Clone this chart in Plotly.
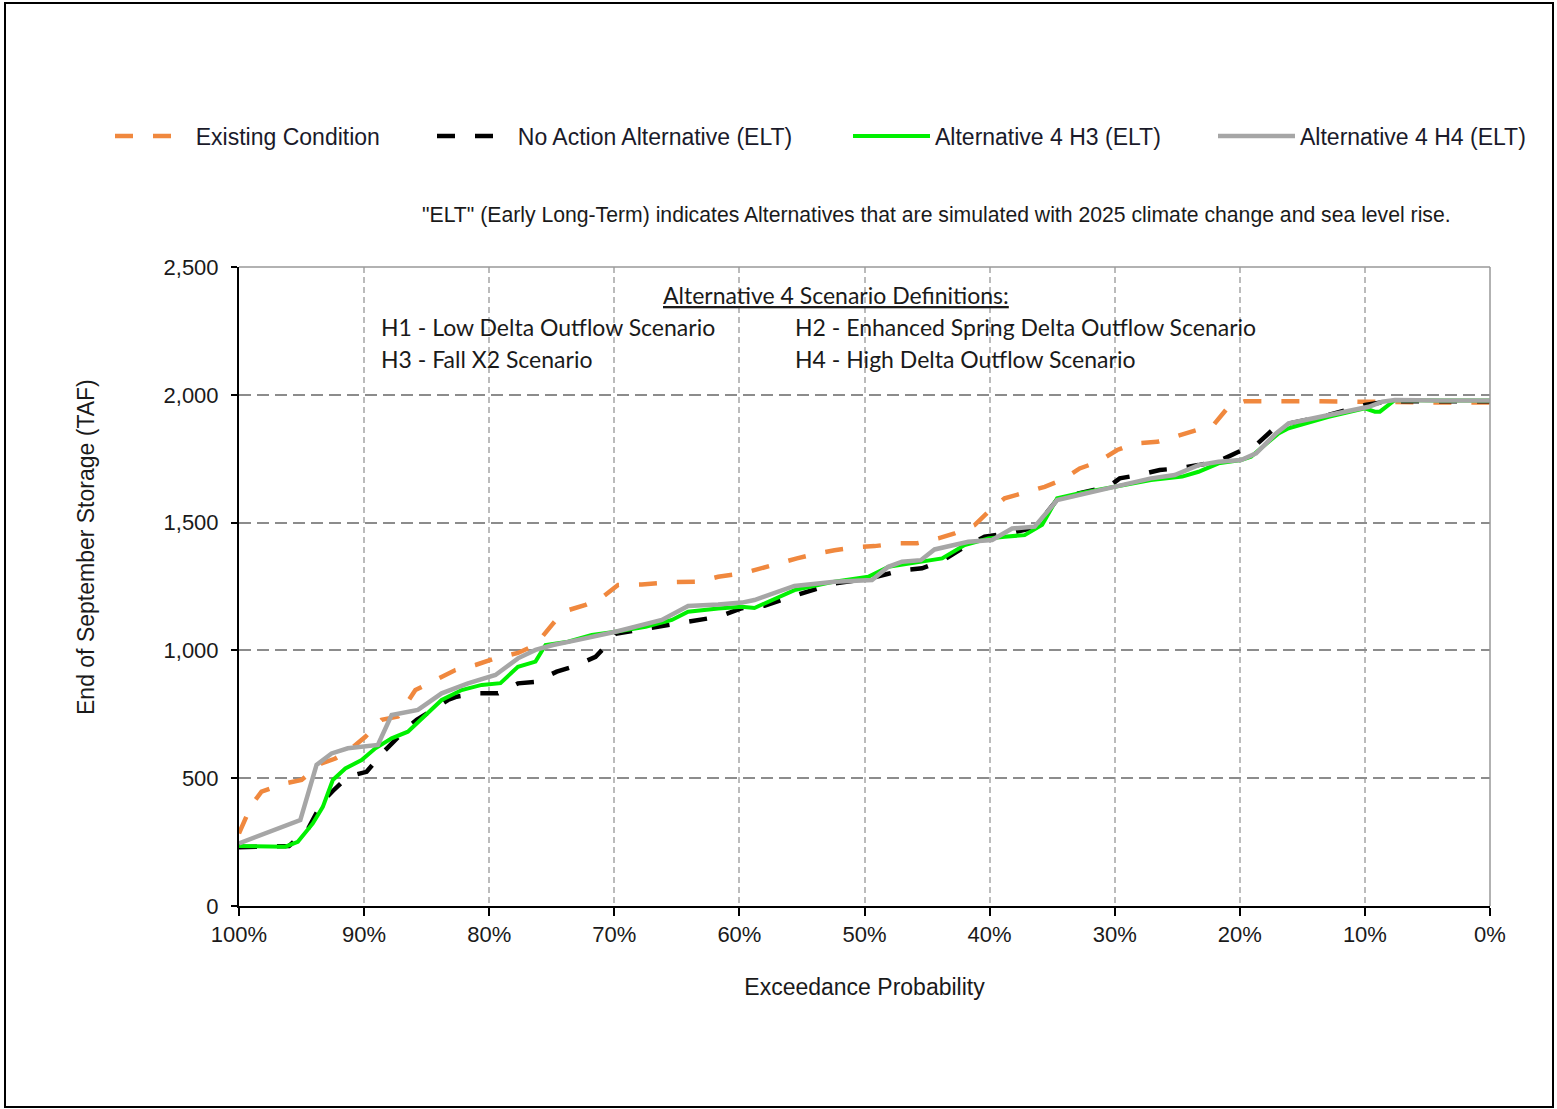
import plotly.graph_objects as go

# ---------------- data ----------------
exist_x = [100, 99, 98.2, 96.3, 95, 93.4, 92.3, 91, 89.9, 88.6, 87.3, 85.9, 84.3, 82.7, 81.1, 79.5,
           77.7, 76.3, 75, 74.1, 72.3, 71.1, 69.7, 67.8, 65.5, 63.3, 61.7, 59.8, 58.8, 56.9, 55.4,
           53.7, 52.4, 50.5, 49.2, 47.3, 45.8, 44.1, 42.8, 41.2, 40.1, 38.8, 37.3, 35.6, 34.2, 32.8,
           31.3, 29.8, 28.4, 26.6, 25.2, 23.6, 22.1, 20.9, 19.6, 15, 10, 8, 4, 0]
exist_y = [284, 395, 447, 480, 493, 558, 577, 617, 662, 728, 741, 845, 884, 923, 943, 969,
           990, 1021, 1099, 1151, 1178, 1203, 1256, 1258, 1267, 1269, 1288, 1301, 1314, 1341, 1360,
           1380, 1392, 1405, 1408, 1419, 1419, 1438, 1458, 1490, 1542, 1595, 1614, 1640, 1667, 1712,
           1738, 1784, 1810, 1816, 1836, 1862, 1882, 1953, 1975, 1975, 1975, 1972, 1970, 1970]

naa_x = [100, 98, 96, 94.5, 93.3, 92.5, 91.3, 89.8, 88.5, 87.5, 86.5, 85.8, 84.5, 83.3, 82.6, 80.9,
         79.3, 77.7, 76.3, 74.6, 73.3, 71.5, 70.6, 69.9, 67.5, 65.7, 64.5, 62.5, 61.3, 59.8, 58,
         56.4, 55, 52.4, 49.7, 48.1, 47, 45.4, 43.8, 42, 40.4, 39.6, 38.2, 36.4, 34.6, 32.9, 30.5,
         29.6, 28.1, 26.4, 24.9, 23.3, 21.7, 20.1, 18.7, 17.4, 16.6, 12.9, 11, 10, 8, 4, 0]
naa_y = [230, 232, 235, 300, 410, 450, 506, 525, 600, 650, 700, 728, 770, 806, 819, 832,
         832, 871, 877, 917, 936, 975, 1021, 1065, 1085, 1099, 1112, 1125, 1138, 1165, 1175,
         1203, 1223, 1262, 1280, 1300, 1314, 1321, 1350, 1405, 1445, 1451, 1460, 1480, 1590, 1614, 1640,
         1673, 1686, 1706, 1712, 1725, 1740, 1777, 1804, 1862, 1882, 1921, 1947, 1960, 1975, 1975, 1975]

h3_x = [100, 96.3, 95.3, 94.1, 93.3, 92.5, 91.5, 90.2, 89.1, 87.8, 86.5, 85.4, 83.8, 82.2, 80.6,
        79.1, 77.7, 76.3, 75.5, 73.7, 71.8, 69.9, 67.5, 65.4, 64.1, 61.7, 59.8, 58.8, 55.6, 52.4,
        49.7, 48.1, 45.7, 43.8, 42, 40.1, 38.8, 37.2, 35.8, 34.6, 32.9, 30, 27.1, 24.6, 23.3, 21.7,
        19.9, 19.1, 16.9, 16.1, 12.9, 10, 9.2, 8.8, 7.6, 4, 0]
h3_y = [235, 232, 251, 323, 388, 493, 538, 571, 617, 656, 682, 734, 806, 845, 865,
        872, 936, 956, 1021, 1034, 1060, 1073, 1092, 1119, 1151, 1164, 1171, 1166, 1236, 1269,
        1288, 1327, 1347, 1360, 1412, 1438, 1445, 1451, 1491, 1595, 1614, 1640, 1667, 1680, 1699, 1732,
        1745, 1758, 1849, 1869, 1914, 1947, 1934, 1934, 1980, 1978, 1978]

h4_x = [100, 95.1, 93.8, 92.6, 91.3, 88.9, 87.8, 85.7, 83.8, 81.7, 79.5, 77.7, 76.3, 74.9, 72.9,
        69.9, 66.2, 64.1, 61.7, 59.8, 58.8, 55.6, 52.4, 49.4, 48.1, 47, 45.5, 44.4, 41.7, 39.8,
        38.2, 36.4, 34.6, 32.3, 30, 27.1, 25.2, 23.3, 21.7, 19.9, 18.7, 17.1, 16.1, 12.9, 9.7,
        8.6, 7.6, 4, 0]
h4_y = [245, 336, 552, 597, 617, 630, 747, 767, 832, 871, 904, 969, 1002, 1021, 1041,
        1073, 1119, 1174, 1180, 1187, 1197, 1252, 1269, 1275, 1327, 1347, 1353, 1395, 1425, 1432,
        1477, 1484, 1588, 1614, 1640, 1673, 1686, 1725, 1738, 1745, 1771, 1849, 1888, 1921, 1953,
        1973, 1980, 1978, 1978]

x_ticks = [100, 90, 80, 70, 60, 50, 40, 30, 20, 10, 0]
x_tick_labels = ["100%", "90%", "80%", "70%", "60%", "50%", "40%", "30%", "20%", "10%", "0%"]
y_ticks = [0, 500, 1000, 1500, 2000, 2500]

series_names = ["Existing Condition", "No Action Alternative (ELT)",
                "Alternative 4 H3 (ELT)", "Alternative 4 H4 (ELT)"]

# ---------------- figure geometry (screen coords; page body margin removed below) ----------------
OFF = 0
SCR_W, SCR_H = 1557, 1109
W, H = SCR_W - OFF, SCR_H - OFF
PLOT_L, PLOT_R, PLOT_T, PLOT_B = 239, 1490, 267, 906      # plot area in screen pixels
L, T = PLOT_L - OFF, PLOT_T - OFF
PW, PH = PLOT_R - PLOT_L, PLOT_B - PLOT_T
R, B = W - L - PW, H - T - PH


def px_x(sx):
    return (sx - PLOT_L) / PW


def px_y(sy):
    return (PLOT_B - sy) / PH


NB = "\u00a0\u00a0"
fig = go.Figure()
fig.add_trace(go.Scatter(x=exist_x, y=exist_y, mode="lines", name=NB + series_names[0],
                         line=dict(color="#F0883E", width=4.5, dash="18px,20px"), legend="legend"))
fig.add_trace(go.Scatter(x=naa_x, y=naa_y, mode="lines", name=NB + series_names[1],
                         line=dict(color="#000000", width=4.5, dash="18px,20px"), legend="legend2"))
fig.add_trace(go.Scatter(x=h3_x, y=h3_y, mode="lines", name=series_names[2],
                         line=dict(color="#00F000", width=4), legend="legend3"))
fig.add_trace(go.Scatter(x=h4_x, y=h4_y, mode="lines", name=series_names[3],
                         line=dict(color="#A6A6A6", width=4.5), legend="legend4"))

FONT = "Liberation Sans, Arial, sans-serif"
TXT = "#1a1a1a"
leg_font = dict(family=FONT, size=23, color="#1a1a2a")
leg_common = dict(orientation="h", yanchor="middle", font=leg_font, bgcolor="rgba(0,0,0,0)",
                  borderwidth=0, xanchor="left")

fig.update_layout(
    width=W, height=H,
    margin=dict(l=L, r=R, t=T, b=B, autoexpand=False),
    paper_bgcolor="white", plot_bgcolor="white",
    showlegend=True,
    legend=dict(**leg_common, x=px_x(110), y=px_y(136), itemwidth=63),
    legend2=dict(**leg_common, x=px_x(432), y=px_y(136), itemwidth=63),
    legend3=dict(**leg_common, x=px_x(848), y=px_y(136), itemwidth=77),
    legend4=dict(**leg_common, x=px_x(1213), y=px_y(136), itemwidth=77),
    xaxis=dict(
        range=[100, 0], tickmode="array", tickvals=x_ticks, ticktext=x_tick_labels,
        showline=True, linecolor="black", linewidth=2,
        ticks="outside", ticklen=8, tickwidth=1.5, tickcolor="black",
        showgrid=True, gridcolor="#BBBBBB", gridwidth=1.5, griddash="6px,4px",
        zeroline=False, tickfont=dict(family=FONT, size=22, color=TXT),
        title=dict(text="Exceedance Probability", font=dict(family=FONT, size=23, color=TXT),
                   standoff=32),
    ),
    yaxis=dict(
        range=[0, 2500], tickmode="array", tickvals=y_ticks, tickformat=",",
        showline=True, linecolor="black", linewidth=2,
        ticks="outside", ticklen=6, tickwidth=1.5, tickcolor="black",
        showgrid=True, gridcolor="#8C8C8C", gridwidth=1.5, griddash="12px,6px",
        zeroline=False, tickfont=dict(family=FONT, size=22, color=TXT),
        ticklabelstandoff=8,
    ),
    shapes=[
        dict(type="line", xref="paper", yref="paper", x0=0, x1=1, y0=1, y1=1,
             line=dict(color="#999999", width=1.5)),
        dict(type="line", xref="paper", yref="paper", x0=1, x1=1, y0=0, y1=1,
             line=dict(color="#999999", width=1.5)),
        dict(type="rect", xref="paper", yref="paper",
             x0=px_x(5), x1=px_x(1553), y0=px_y(1107), y1=px_y(3),
             line=dict(color="black", width=2)),
    ],
)

SC_FONT = dict(family="Lato, Carlito, Calibri, sans-serif", size=23, color=TXT)
annotations = [
    dict(text="End of September Storage (TAF)", textangle=-90, x=px_x(86), y=px_y(547),
         xref="paper", yref="paper", showarrow=False, xanchor="center", yanchor="middle",
         font=dict(family=FONT, size=23, color=TXT)),
    dict(text='"ELT" (Early Long-Term) indicates Alternatives that are simulated with 2025 climate change and sea level rise.',
         x=px_x(936), y=px_y(215), xref="paper", yref="paper", showarrow=False,
         xanchor="center", yanchor="middle", font=dict(family=FONT, size=21.2, color=TXT)),
    dict(text="<u>Alternative 4 Scenario Definitions:</u>", x=px_x(836), y=px_y(295),
         xref="paper", yref="paper", showarrow=False, xanchor="center", yanchor="middle", font=SC_FONT),
    dict(text="H1 - Low Delta Outflow Scenario", x=px_x(379), y=px_y(327), xref="paper", yref="paper",
         showarrow=False, xanchor="left", yanchor="middle", font=SC_FONT),
    dict(text="H2 - Enhanced Spring Delta Outflow Scenario", x=px_x(793), y=px_y(327), xref="paper",
         yref="paper", showarrow=False, xanchor="left", yanchor="middle", font=SC_FONT),
    dict(text="H3 - Fall X2 Scenario", x=px_x(379), y=px_y(359), xref="paper", yref="paper",
         showarrow=False, xanchor="left", yanchor="middle", font=SC_FONT),
    dict(text="H4 - High Delta Outflow Scenario", x=px_x(793), y=px_y(359), xref="paper", yref="paper",
         showarrow=False, xanchor="left", yanchor="middle", font=SC_FONT),
]
fig.update_layout(annotations=annotations)

fig.write_html(
    "out.html",
    config={"displayModeBar": False},
    post_script="document.body.style.margin='0';document.body.style.padding='0';",
)
